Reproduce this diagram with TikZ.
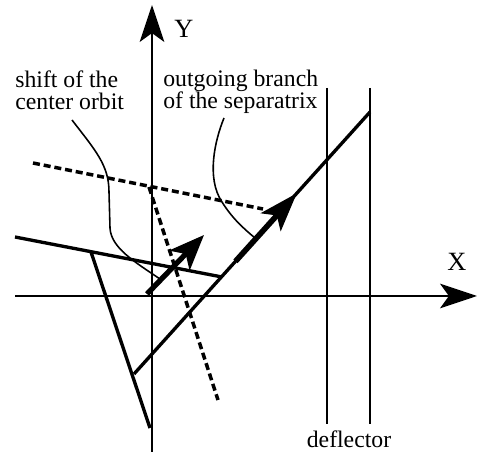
\documentclass[tikz,border=0pt]{standalone}
\usepackage{fontspec}
\setmainfont{Liberation Serif}
\usetikzlibrary{arrows.meta,calc}

\begin{document}
\begin{tikzpicture}[x=0.02cm, y=-0.02cm,
  axis/.style={line width=1.3pt, -{Stealth[length=21pt,width=14pt,inset=5pt]}},
  orbit/.style={line width=1.9pt},
  plate/.style={line width=1.6pt},
  shifted/.style={line width=2pt, dash pattern=on 4pt off 2.2pt},
  leader/.style={line width=0.9pt},
  flow/.style={line width=3pt, -{Stealth[length=20pt,width=16pt,inset=5pt]}},
  lbl/.style={font=\fontsize{13.5}{12.5}\selectfont, inner sep=0pt, align=left}]
  \useasboundingbox (0,0) rectangle (477,452);
  % axes
  \coordinate (xl) at (15,296);
  \coordinate (xr) at (477,296);
  \coordinate (yb) at (152,452);
  \coordinate (yt) at (152,5);
  \draw[axis] (xl) -- (xr);
  \draw[axis] (yb) -- (yt);
  \node[lbl, font=\fontsize{15}{15}\selectfont] (ylab) at (184,29) {Y};
  \node[lbl, font=\fontsize{15}{15}\selectfont] (xlab) at (457,262) {X};
  % deflector plates
  \coordinate (d1t) at (327,88);
  \coordinate (d1b) at (327,424);
  \coordinate (d2t) at (370,88);
  \coordinate (d2b) at (370,424);
  \draw[plate] (d1t) -- (d1b);
  \draw[plate] (d2t) -- (d2b);
  \node[lbl] (deflab) at (349,439) {deflector};
  % separatrix and triangle
  \coordinate (sepA) at (134,374);
  \coordinate (sepB) at (370,112);
  \coordinate (tA) at (15,237);
  \coordinate (tB) at (222,277);
  \coordinate (tC) at (91,252);
  \coordinate (tD) at (150,428);
  \draw[orbit] (sepA) -- (sepB);
  \draw[orbit] (tA) -- (tB);
  \draw[orbit] (tC) -- (tD);
  % shifted (dashed) lines
  \coordinate (s1a) at (33,163);
  \coordinate (s1b) at (263,209);
  \coordinate (s2a) at (149,187);
  \coordinate (s2b) at (218,400);
  \draw[shifted] (s1a) -- (s1b);
  \draw[shifted] (s2a) -- (s2b);
  % arrows
  \coordinate (o) at (147,294);
  \coordinate (otip) at (204,235);
  \draw[flow] (o) -- (otip);
  \draw[flow, line width=3.2pt, -{Stealth[length=22pt,width=15pt,inset=5pt]}]
    ($(sepA)!0.43!(sepB)$) -- ($(sepA)!0.69!(sepB)$);
  % labels and leaders
  \node[lbl, anchor=north west] (shiftlab) at (15,70) {shift of the\\center orbit};
  \node[lbl, anchor=north west] (branchlab) at (163,70) {outgoing branch\\of the separatrix};
  \coordinate (l1) at (72,120);
  \coordinate (l1e) at (160,279);
  \coordinate (l2) at (224,118);
  \coordinate (l2e) at (255,238);
  \draw[leader] (l1) .. controls (95,150) and (109,165) .. (109,192)
    -- (110,228) .. controls (111,248) and (135,262) .. (l1e);
  \draw[leader] (l2) .. controls (215,140) and (206,178) .. (222,202)
    .. controls (232,218) and (243,228) .. (l2e);
\end{tikzpicture}
\end{document}
